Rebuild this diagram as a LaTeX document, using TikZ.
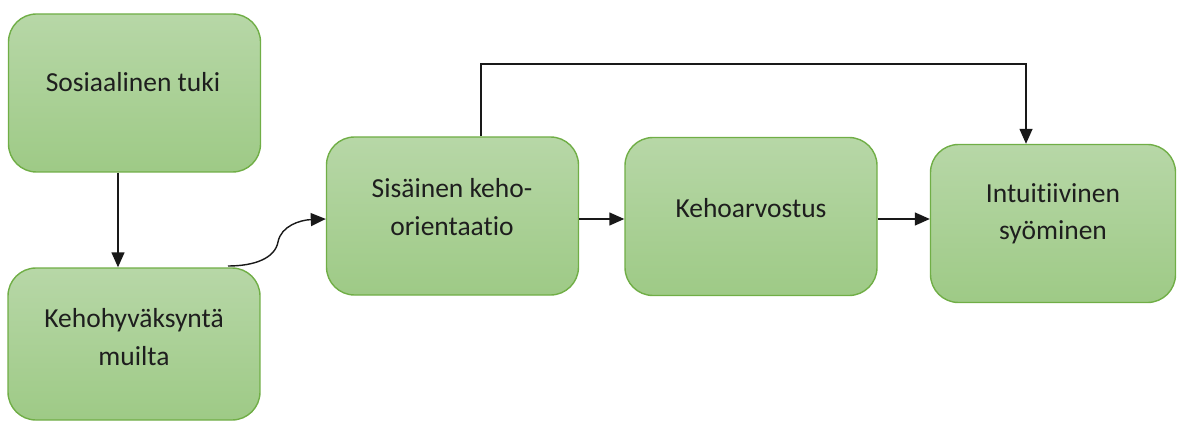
\documentclass[tikz,border=0pt]{standalone}
\usepackage{fontspec}
\setmainfont{Carlito}[RawFeature={-liga;-clig;-dlig}]
\usetikzlibrary{arrows.meta,calc}
\definecolor{boxtop}{RGB}{183,215,167}
\definecolor{boxbot}{RGB}{158,202,134}
\definecolor{boxline}{RGB}{112,174,70}
\definecolor{txt}{RGB}{30,30,30}
\begin{document}
\begin{tikzpicture}[x=1pt,y=-1pt,
  box/.style={draw=boxline, line width=1.4pt, rounded corners=28pt,
    top color=boxtop, bottom color=boxbot, inner sep=0pt,
    minimum width=252pt, minimum height=158pt},
  lbl/.style={align=center, font=\fontsize{27.5}{37.5}\selectfont, text=txt, inner sep=0pt},
  conn/.style={line width=1.4pt, draw=black!90, -{Triangle[length=15pt,width=13pt]}}]
\useasboundingbox (0,0) rectangle (1177,422);
% boxes
\node[box] (b1) at (134.5,93) {};
\node[box, minimum height=152pt] (b2) at (134,344) {};
\node[box] (b3) at (452.5,216) {};
\node[box] (b4) at (751,216.5) {};
\node[box, minimum width=245pt] (b5) at (1053,223.5) {};
% labels
\node[lbl] (t1) at (133,82) {Sosiaalinen tuki};
\node[lbl] (t2) at (134,337) {Kehohyväksyntä\\muilta};
\node[lbl] (t3) at (452,207) {Sisäinen keho-\\orientaatio};
\node[lbl] (t4) at (751,208) {Kehoarvostus};
\node[lbl] (t5) at (1053,214) {Intuitiivinen\\syöminen};
% helper coordinates
\coordinate (r1) at (0,219);
\coordinate (c1) at (481,64);
\coordinate (c2) at (1026,64);
\coordinate (s) at (228,266);
\coordinate (m) at (278,242);
% connectors
\draw[conn] ([xshift=-16.5pt]b1.south) -- ([xshift=-16pt]b2.north);
\draw[conn] (s) .. controls (255,266) and (275,258) .. (m)
  .. controls (281,226) and (300,220) .. (b3.west |- r1);
\draw[conn] (b3.east |- r1) -- (b4.west |- r1);
\draw[conn] (b4.east |- r1) -- (b5.west |- r1);
\draw[conn] (b3.north -| c1) -- (c1) -- (c2) -- (c2 |- b5.north);
\end{tikzpicture}
\end{document}
